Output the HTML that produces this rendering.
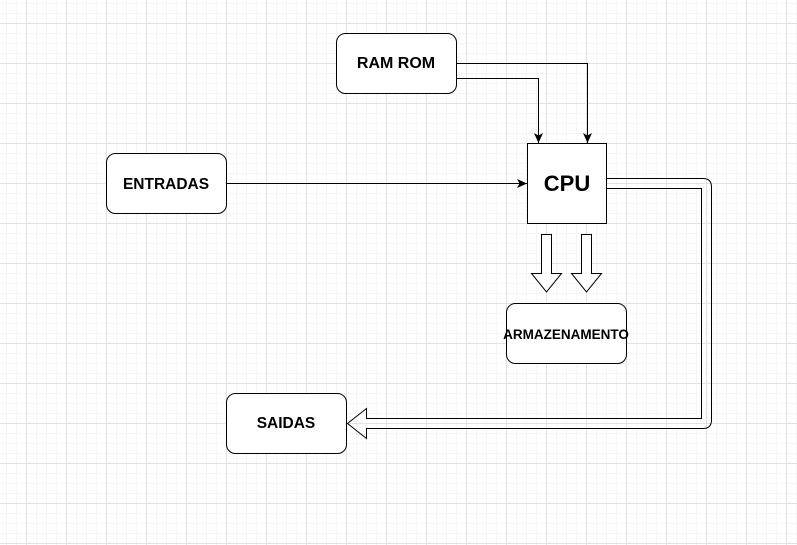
<!DOCTYPE html>
<html><head><style>
body{margin:0;width:797px;height:545px;overflow:hidden;background:#fff;
background-image:linear-gradient(#e2e2e2 1px,transparent 1px),linear-gradient(90deg,#e2e2e2 1px,transparent 1px),linear-gradient(#f5f5f5 1px,transparent 1px),linear-gradient(90deg,#f5f5f5 1px,transparent 1px);
background-size:40px 40px,40px 40px,10px 10px,10px 10px;background-position:26px 23px,26px 23px,6px 3px,6px 3px;}
</style></head><body>
<svg width="797" height="545" style="position:absolute;left:0;top:0" font-family="Liberation Sans, sans-serif" font-weight="bold">
<defs><marker id="a" markerWidth="12" markerHeight="12" refX="10" refY="5" orient="auto" markerUnits="userSpaceOnUse"><path d="M0,0.5 L10,5 L0,9.5 L2.5,5Z" fill="#000"/></marker></defs>
<g fill="#fff" stroke="#000" stroke-width="1">
<rect x="336.5" y="33.5" width="120" height="60" rx="9"/>
<rect x="106.5" y="153.5" width="120" height="60" rx="9"/>
<rect x="527.5" y="143.5" width="79" height="80"/>
<rect x="506.5" y="303.5" width="120" height="60" rx="9"/>
<rect x="226.5" y="393.5" width="120" height="60" rx="9"/>
</g>
<g fill="none" stroke="#000" stroke-width="1">
<path d="M456,63.5 H587.5 V143" marker-end="url(#a)"/>
<path d="M456,78.5 H538.5 V143" marker-end="url(#a)"/>
<path d="M226,183.5 H527" marker-end="url(#a)"/>
<path d="M607,178.5 H703 Q711.5,178.5 711.5,187 V420 Q711.5,428.5 703,428.5 H366.5 V438.5 L347.5,423.5 L366.5,408.5 V418.5 H701.5 V188.5 H607"/>
<path d="M541.5,234.5 H551.5 V273.5 H561.5 L546.5,292 L531.5,273.5 H541.5Z" fill="#fff"/>
<path d="M581.5,234.5 H591.5 V273.5 H601.5 L586.5,292 L571.5,273.5 H581.5Z" fill="#fff"/>
</g>
<text x="396" y="68" font-size="16" text-anchor="middle">RAM ROM</text>
<text x="166" y="189" font-size="15.5" text-anchor="middle">ENTRADAS</text>
<text x="567" y="191" font-size="22" text-anchor="middle">CPU</text>
<text x="566" y="339" font-size="13.5" text-anchor="middle">ARMAZENAMENTO</text>
<text x="286" y="428" font-size="15.5" text-anchor="middle">SAIDAS</text>
</svg>
</body></html>
